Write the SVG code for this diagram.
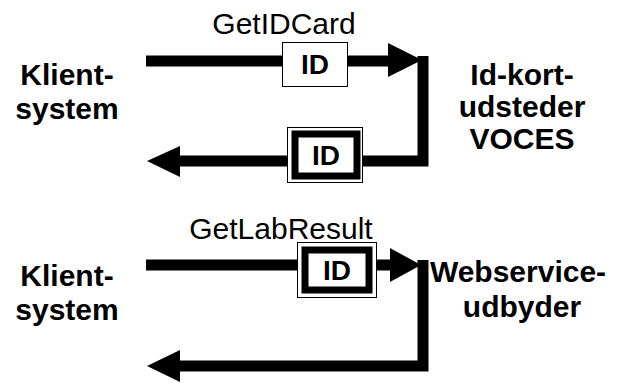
<svg xmlns="http://www.w3.org/2000/svg" width="624" height="383" viewBox="0 0 624 383">
<style>
.lbl{font-family:"Liberation Sans",Arial,sans-serif;font-weight:bold;font-size:30px;fill:#000;text-anchor:middle}
.msg{font-family:"Liberation Sans",Arial,sans-serif;font-size:30px;fill:#000;text-anchor:middle}
.id{font-family:"Liberation Sans",Arial,sans-serif;font-weight:bold;font-size:28px;fill:#000;text-anchor:middle}
.flow{fill:none;stroke:#000;stroke-width:11;stroke-linejoin:miter}
.thin{fill:#fff;stroke:#000;stroke-width:1}
.thick{fill:#fff;stroke:#000;stroke-width:7}
</style>
<rect width="624" height="383" fill="#fff"/>
<g id="connectors">
  <path class="flow" d="M146,61 H392 M423,56 V161 H178"/>
  <polygon points="388,43 422,60 388,77"/>
  <polygon points="147,161 180,146 180,177"/>
  <path class="flow" d="M146,265 H392 M423,260 V366 H178"/>
  <polygon points="390,248 421,265 390,282"/>
  <polygon points="147,366 180,350 180,382"/>
</g>
<g id="client1"><text class="lbl" x="67" y="85">Klient-</text><text class="lbl" x="67" y="119">system</text></g>
<g id="voces"><text class="lbl" x="522" y="85">Id-kort-</text><text class="lbl" x="522" y="117">udsteder</text><text class="lbl" x="522" y="149">VOCES</text></g>
<g id="client2"><text class="lbl" x="67" y="286">Klient-</text><text class="lbl" x="67" y="320">system</text></g>
<g id="webservice"><text class="lbl" x="518" y="282">Webservice-</text><text class="lbl" x="522" y="317">udbyder</text></g>
<g id="msg1"><text class="msg" x="284" y="34">GetIDCard</text></g>
<g id="msg2"><text class="msg" x="281" y="239">GetLabResult</text></g>
<g id="id1"><rect class="thin" x="282.5" y="42.5" width="65" height="44"/><text class="id" x="315" y="74">ID</text></g>
<g id="id2"><rect class="thin" x="287.5" y="127.5" width="75" height="55"/><rect class="thick" x="295" y="134" width="62" height="42"/><text class="id" x="326" y="165">ID</text></g>
<g id="id3"><rect class="thin" x="297.5" y="242.5" width="79" height="55"/><rect class="thick" x="305" y="250" width="64" height="40"/><text class="id" x="337" y="280">ID</text></g>
</svg>
